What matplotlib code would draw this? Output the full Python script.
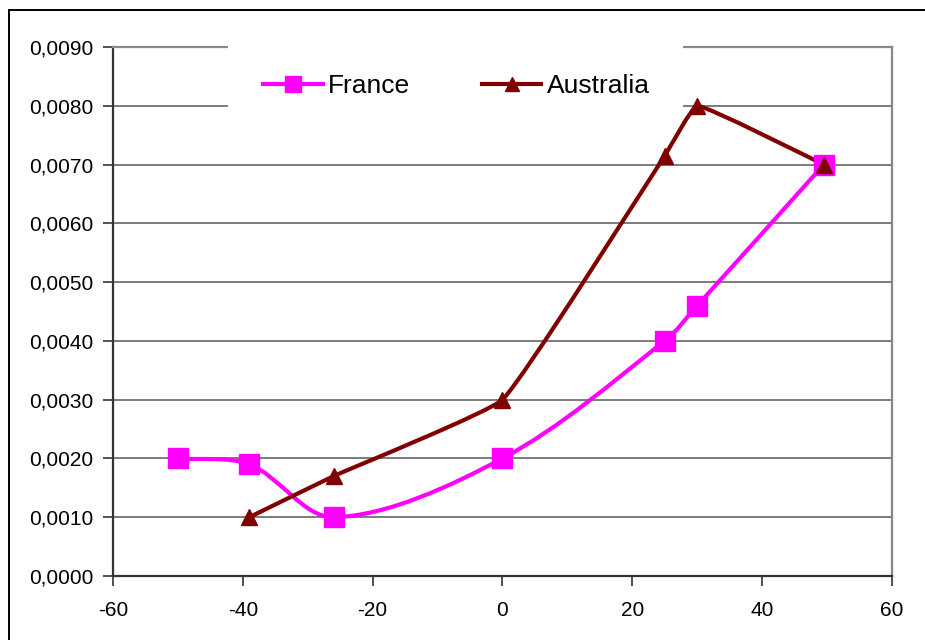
import numpy as np
import matplotlib.pyplot as plt
from matplotlib.path import Path
from matplotlib.patches import PathPatch, Rectangle
from matplotlib.ticker import FuncFormatter, MultipleLocator

plt.rcParams['font.family'] = ['Liberation Sans', 'DejaVu Sans']

# Series values
france_x = [-50, -39, -26, 0, 25, 30, 49.5]
france_y = [0.0020, 0.0019, 0.0010, 0.0020, 0.0040, 0.0046, 0.0070]
australia_x = [-39, -26, 0, 25, 30, 49.5]
australia_y = [0.0010, 0.0017, 0.0030, 0.00715, 0.0080, 0.0070]

france_color = '#FF00FF'
australia_color = '#800000'

xlim = (-60, 60)
ylim = (0, 0.009)
ax_rect = [113 / 925, 64 / 640, 779 / 925, 529 / 640]

# pixels per data unit, used so the smoothing works on screen distances
sx = 779 / (xlim[1] - xlim[0])
sy = 529 / (ylim[1] - ylim[0])


def smooth_path(xs, ys, tension):
    # Bezier path through the points (smoothed line)
    pts = np.column_stack([np.asarray(xs) * sx, np.asarray(ys) * sy])
    n = len(pts)
    verts = [pts[0]]
    codes = [Path.MOVETO]
    for i in range(n - 1):
        p0 = pts[max(i - 1, 0)]
        p1 = pts[i]
        p2 = pts[i + 1]
        p3 = pts[min(i + 2, n - 1)]
        d01 = np.hypot(*(p1 - p0))
        d12 = np.hypot(*(p2 - p1))
        d23 = np.hypot(*(p3 - p2))
        c1 = p1 + (p2 - p0) * d12 / (d01 + d12) * tension
        c2 = p2 - (p3 - p1) * d12 / (d12 + d23) * tension
        verts += [c1, c2, p2]
        codes += [Path.CURVE4] * 3
    verts = np.array(verts) / [sx, sy]
    return Path(verts, codes)


fig = plt.figure(figsize=(9.25, 6.4), dpi=100)
ax = fig.add_axes(ax_rect)

for xs, ys, col, t in [(france_x, france_y, france_color, 0.33),
                       (australia_x, australia_y, australia_color, 0.1)]:
    ax.add_patch(PathPatch(smooth_path(xs, ys, t), facecolor='none',
                           edgecolor=col, lw=3, zorder=3,
                           capstyle='round', joinstyle='round'))

ax.plot(france_x, france_y, ls='none', marker='s', ms=14, color=france_color,
        zorder=4)
ax.plot(australia_x, australia_y, ls='none', marker='^', ms=11,
        color=australia_color, zorder=5)

ax.set_xlim(*xlim)
ax.set_ylim(*ylim)
ax.xaxis.set_major_locator(MultipleLocator(20))
ax.yaxis.set_major_locator(MultipleLocator(0.001))
ax.yaxis.set_major_formatter(FuncFormatter(lambda v, p: f'{v:.4f}'.replace('.', ',')))
ax.xaxis.set_major_formatter(FuncFormatter(lambda v, p: f'{v:.0f}'))
ax.tick_params(labelsize=15, length=7, width=1.2, color='#333333', pad=7)
ax.tick_params(axis='x', pad=11)

ax.grid(axis='y', color='#666666', lw=1.2, zorder=1)
for s in ['left', 'bottom']:
    ax.spines[s].set_color('#333333')
    ax.spines[s].set_linewidth(1.6)
for s in ['top', 'right']:
    ax.spines[s].set_color('#888888')
    ax.spines[s].set_linewidth(1.6)

# white area behind the legend (covers grid and top spine, not the lines)
ax.add_patch(Rectangle((0.1476, 0.853), 0.584, 0.165, transform=ax.transAxes,
                       facecolor='white', edgecolor='none', clip_on=False,
                       zorder=2.6))

h1, = ax.plot([], [], color=france_color, lw=3, marker='s', ms=12)
h2, = ax.plot([], [], color=australia_color, lw=3, marker='^', ms=10)
leg = ax.legend([h1, h2], ['France', 'Australia'], ncol=2, frameon=False,
                loc='center left', bbox_to_anchor=(0.1926, 0.926),
                borderpad=0, borderaxespad=0, fontsize=19,
                handlelength=2.27, handletextpad=0.2, columnspacing=2.7)
leg.set_zorder(7)

# outer border
fig.patches.append(Rectangle((9 / 925, -0.1), 1.2, 1 - 10 / 640 + 0.1,
                             transform=fig.transFigure, facecolor='none',
                             edgecolor='black', lw=1.4))

plt.savefig('out.png', dpi=100)
